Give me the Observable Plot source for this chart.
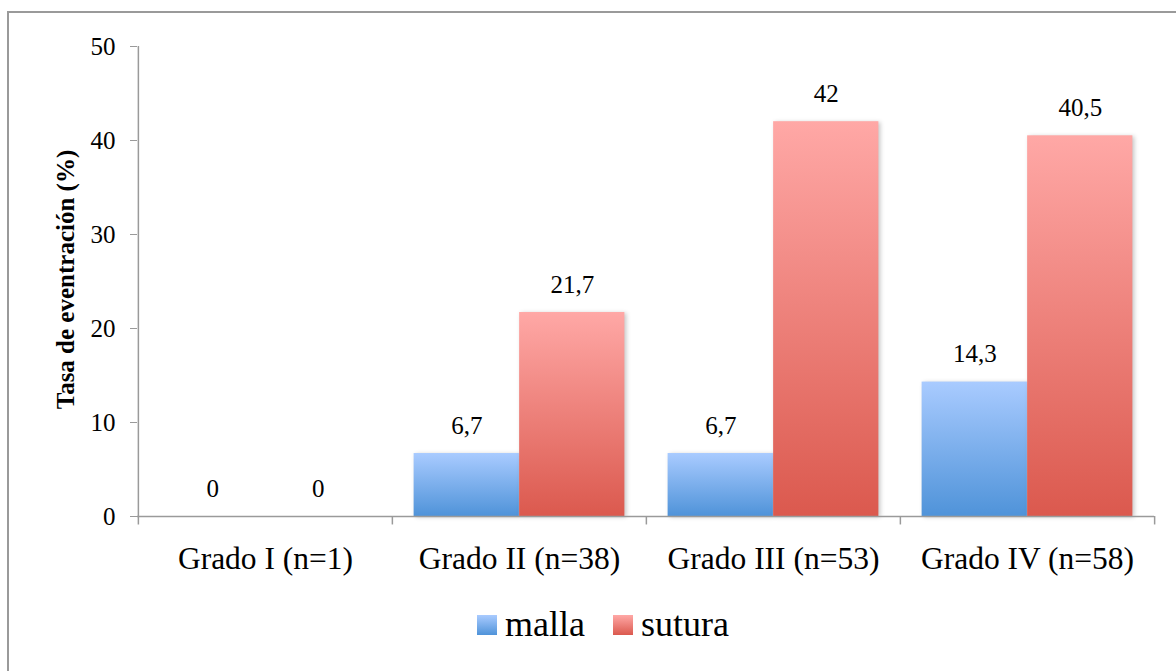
<!DOCTYPE html>
<html>
<head>
<meta charset="utf-8">
<script src="https://cdn.jsdelivr.net/npm/d3@7"></script>
<script src="https://cdn.jsdelivr.net/npm/@observablehq/plot@0.6"></script>
<style>
  html, body { margin: 0; padding: 0; background: #fff; }
  body { width: 1176px; height: 671px; overflow: hidden; position: relative; font-family: "Liberation Serif", serif; }
  #frame { position: absolute; left: 7px; top: 11px; width: 1200px; height: 700px; border: 2px solid #9a9a9a; box-sizing: border-box; }
  #chart { position: absolute; left: 0; top: 0; }
  #chart svg text { font-family: "Liberation Serif", serif !important; font-variant-numeric: normal !important; font-variant: normal !important; }
  #legend { position: absolute; left: 477px; top: 602px; height: 44px; display: flex; align-items: center; font-family: "Liberation Serif", serif; font-size: 36px; line-height: 44px; color: #000; }
  .item { display: flex; align-items: center; }
  .item + .item { margin-left: 28px; }
  .sw { width: 20px; height: 20px; margin-right: 8px; margin-top: 2px; }
</style>
</head>
<body>
<div id="frame"></div>
<div id="chart"></div>
<div id="legend"></div>
<script>
const categorias = ["Grado I (n=1)", "Grado II (n=38)", "Grado III (n=53)", "Grado IV (n=58)"];
const series = ["malla", "sutura"];
const malla = [0, 6.7, 6.7, 14.3];
const sutura = [0, 21.7, 42, 40.5];
const yTicks = [0, 10, 20, 30, 40, 50];
const yTitulo = "Tasa de eventración (%)";

const filasMalla = categorias.map((c, i) => ({categoria: c, serie: "malla", valor: malla[i]}));
const filasSutura = categorias.map((c, i) => ({categoria: c, serie: "sutura", valor: sutura[i]}));
const fmt = v => String(v).replace(".", ",");

const W = 1176, H = 600, mL = 137, mR = 22, mT = 46, mB = 84;
const bw = (W - mL - mR) / categorias.length;
const barW = 105.5;
const pad = (bw - 2 * barW) / 2;
const axisGray = "#9a9a9a";
const serif = "Liberation Serif, serif";

const plot = Plot.plot({
  width: W, height: H,
  marginLeft: mL, marginRight: mR, marginTop: mT, marginBottom: mB,
  style: {fontFamily: serif, color: "#000", background: "transparent"},
  x: {type: "band", domain: categorias, padding: 0, label: null},
  y: {domain: [0, 50], label: null},
  marks: [
    Plot.barY(filasMalla, {x: "categoria", y: "valor", fill: "url(#gMalla)", insetLeft: pad, insetRight: pad + barW, className: "barra"}),
    Plot.barY(filasSutura, {x: "categoria", y: "valor", fill: "url(#gSutura)", insetLeft: pad + barW, insetRight: pad, className: "barra"}),
    Plot.ruleY([0], {stroke: axisGray, strokeWidth: 1.5}),
    Plot.ruleX([categorias[0]], {x: d => d, y1: -0.9, y2: 50, dx: -bw / 2, stroke: axisGray, strokeWidth: 1.5}),
    Plot.ruleX(categorias.slice(1), {x: d => d, y1: -0.9, y2: 0, dx: -bw / 2, stroke: axisGray, strokeWidth: 1.5}),
    Plot.ruleX([categorias[categorias.length - 1]], {x: d => d, y1: -0.9, y2: 0, dx: bw / 2, stroke: axisGray, strokeWidth: 1.5}),
    Plot.axisY({ticks: yTicks, tickSize: 7, tickPadding: 15, fontSize: 25, stroke: axisGray, fill: "#000", label: null, fontFamily: serif}),
    Plot.axisX({tickSize: 0, tickPadding: 30, fontSize: 31.5, fill: "#000", label: null, fontFamily: serif}),
    Plot.text(filasMalla, {x: "categoria", y: "valor", text: d => fmt(d.valor), dx: -(barW / 2), dy: -28, fontSize: 25, fill: "#000", fontFamily: serif}),
    Plot.text(filasSutura, {x: "categoria", y: "valor", text: d => fmt(d.valor), dx: barW / 2, dy: -28, fontSize: 25, fill: "#000", fontFamily: serif}),
    Plot.text([yTitulo], {frameAnchor: "left", textAnchor: "middle", rotate: -90, dx: -72, dy: -2, fontSize: 25, fontWeight: "bold", fill: "#000", fontFamily: serif})
  ]
});

d3.select(plot).insert("defs", ":first-child").html(`
  <linearGradient id="gMalla" x1="0" y1="0" x2="0" y2="1">
    <stop offset="0" stop-color="#a9cbff"/>
    <stop offset="1" stop-color="#4f93d9"/>
  </linearGradient>
  <linearGradient id="gSutura" x1="0" y1="0" x2="0" y2="1">
    <stop offset="0" stop-color="#ffa8a6"/>
    <stop offset="1" stop-color="#db594e"/>
  </linearGradient>`);
d3.select(plot).selectAll(".barra rect").style("filter", "drop-shadow(2px 1px 2px rgba(0,0,0,0.22))");

document.getElementById("chart").appendChild(plot);

const grads = {malla: "linear-gradient(#a9cbff, #4f93d9)", sutura: "linear-gradient(#ffa8a6, #db594e)"};
const legend = document.getElementById("legend");
series.forEach(s => {
  const it = document.createElement("div");
  it.className = "item";
  const sw = document.createElement("div");
  sw.className = "sw";
  sw.style.background = grads[s];
  const t = document.createElement("span");
  t.textContent = s;
  it.appendChild(sw);
  it.appendChild(t);
  legend.appendChild(it);
});
</script>
</body>
</html>
